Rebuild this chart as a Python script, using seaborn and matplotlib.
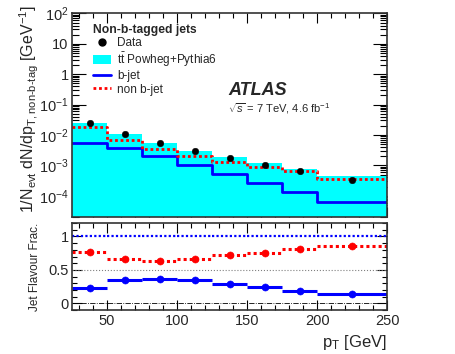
import numpy as np
import pandas as pd
import matplotlib
matplotlib.use("Agg")
import matplotlib.pyplot as plt
from matplotlib.lines import Line2D
from matplotlib.patches import Patch
from matplotlib.ticker import MultipleLocator, LogLocator, FuncFormatter, NullFormatter
import seaborn as sns

# --- dados ---
bin_edges = [25, 50, 75, 100, 125, 150, 175, 200, 250]
data_vals = [0.0247, 0.0105, 0.00547, 0.00292, 0.00172, 0.00102, 0.00066, 0.000342]
mc_total = [0.0242, 0.0108, 0.0056, 0.00305, 0.00186, 0.00118, 0.000767, 0.000463]
mc_bjet = [0.00547, 0.00366, 0.0020, 0.00104, 0.000514, 0.000267, 0.000138, 0.0000603]
mc_nonb = [0.0187, 0.00701, 0.00348, 0.0020, 0.0013, 0.000914, 0.00066, 0.000369]

frac_nonb = [0.766, 0.657, 0.640, 0.657, 0.716, 0.757, 0.816, 0.850]
frac_bjet = [0.224, 0.343, 0.368, 0.343, 0.284, 0.243, 0.183, 0.144]
frac_all = [1.0, 1.0, 1.0, 1.0, 1.0, 1.0, 1.0, 1.0]

CYAN = "#00FFFF"
BLUE = "#0000FF"
RED = "#FF0000"

sns.set_style("ticks")
plt.rcParams["font.family"] = ["Liberation Sans", "DejaVu Sans"]
plt.rcParams["mathtext.fontset"] = "custom"
plt.rcParams["mathtext.rm"] = "Liberation Sans"
plt.rcParams["mathtext.it"] = "Liberation Sans:italic"
plt.rcParams["mathtext.bf"] = "Liberation Sans:bold"

edges = np.array(bin_edges, dtype=float)
centers = 0.5 * (edges[:-1] + edges[1:])
df_mc = pd.DataFrame({"pt": centers, "total": mc_total})

fig = plt.figure(figsize=(4.56, 3.54), dpi=100)
ax = fig.add_axes([0.158, 0.387, 0.691, 0.575])
ax2 = fig.add_axes([0.158, 0.124, 0.691, 0.246])

# --- painel principal ---
sns.histplot(data=df_mc, x="pt", weights="total", bins=bin_edges, element="step", fill=True,
             color=CYAN, alpha=1, linewidth=0, ax=ax)
sns.lineplot(x=edges, y=list(mc_bjet) + [mc_bjet[-1]], drawstyle="steps-post",
             color=BLUE, lw=2, sort=False, estimator=None, ax=ax)
sns.lineplot(x=edges, y=list(mc_nonb) + [mc_nonb[-1]], drawstyle="steps-post",
             color=RED, lw=2, ls=(0, (1, 1)), sort=False, estimator=None, ax=ax)
sns.scatterplot(x=centers, y=data_vals, color="black", s=22, edgecolor="black",
                zorder=5, ax=ax)

ax.set_yscale("log")
ax.set_xlim(25, 250)
ax.set_ylim(2e-5, 100)
ax.set_xlabel("")
ax.set_ylabel("1/N$_{\\rm evt}$ dN/dp$_{\\rm T,non\u2010b\u2010tag}$ [GeV$^{-1}$]", fontsize=11.5)
ax.yaxis.set_label_coords(-0.1, 0.53)


def log_fmt(v, pos):
    if abs(v - 1) < 1e-9:
        return "1"
    if abs(v - 10) < 1e-9:
        return "10"
    return r"$10^{%d}$" % int(round(np.log10(v)))


ax.yaxis.set_major_locator(LogLocator(base=10, numticks=20))
ax.yaxis.set_minor_locator(LogLocator(base=10, subs=np.arange(2, 10), numticks=20))
ax.yaxis.set_major_formatter(FuncFormatter(log_fmt))
ax.yaxis.set_minor_formatter(NullFormatter())
ax.xaxis.set_major_locator(MultipleLocator(50))
ax.xaxis.set_minor_locator(MultipleLocator(10))
ax.tick_params(axis="x", labelbottom=False)

leg_handles = [
    Line2D([], [], marker="o", color="black", ls="none", markersize=5),
    Patch(facecolor=CYAN, edgecolor="none"),
    Line2D([], [], color=BLUE, lw=2),
    Line2D([], [], color=RED, lw=2, ls=(0, (1, 1))),
]
leg_labels = ["Data", r"t$\bar{\rm t}$ Powheg+Pythia6", "b-jet", "non b-jet"]
leg = ax.legend(leg_handles, leg_labels, loc="upper left", bbox_to_anchor=(0.045, 0.985),
                frameon=False, fontsize=8.5, title="Non-b-tagged jets",
                title_fontproperties={"weight": "bold", "size": 8.7},
                alignment="left", handlelength=1.5, handletextpad=0.5,
                labelspacing=0.12, borderaxespad=0.2)

ax.text(0.495, 0.62, "ATLAS", transform=ax.transAxes, fontsize=13,
        fontweight="bold", fontstyle="italic", va="center")
ax.text(0.495, 0.535, r"$\sqrt{s}$ = 7 TeV, 4.6 fb$^{-1}$", transform=ax.transAxes,
        fontsize=8, va="center")

# --- painel de fracoes ---
ax2.axhline(0.5, color="gray", ls=":", lw=0.8)
ax2.axhline(0.0, color="black", ls="-.", lw=0.6)
ax2.hlines(frac_all, edges[:-1], edges[1:], color=BLUE, lw=1.6, ls=(0, (1, 1)))
ax2.hlines(frac_nonb, edges[:-1], edges[1:], color=RED, lw=2.2, ls=(0, (1, 1)))
ax2.hlines(frac_bjet, edges[:-1], edges[1:], color=BLUE, lw=2.2)
sns.scatterplot(x=centers, y=frac_nonb, color=RED, s=26, edgecolor=RED, zorder=5, ax=ax2)
sns.scatterplot(x=centers, y=frac_bjet, color=BLUE, s=26, edgecolor=BLUE, zorder=5, ax=ax2)

ax2.set_xlim(25, 250)
ax2.set_ylim(-0.1, 1.2)
ax2.yaxis.set_major_locator(MultipleLocator(0.5))
ax2.yaxis.set_minor_locator(MultipleLocator(0.1))
ax2.yaxis.set_major_formatter(FuncFormatter(lambda v, p: "%g" % v))
ax2.xaxis.set_major_locator(MultipleLocator(50))
ax2.xaxis.set_minor_locator(MultipleLocator(10))
ax2.set_ylabel("Jet Flavour Frac.", fontsize=8.5)
ax2.yaxis.set_label_coords(-0.1, 0.5)
ax2.set_xlabel(r"p$_{\rm T}$ [GeV]", fontsize=12, loc="right")

for a in (ax, ax2):
    a.tick_params(which="both", direction="in", top=True, right=True, labelsize=10.5,
                  color="black", pad=2.5)
    a.tick_params(which="major", length=7, width=0.8)
    a.tick_params(which="minor", length=3.5, width=0.8)
    for sp in a.spines.values():
        sp.set_visible(True)
        sp.set_linewidth(1.2)
        sp.set_color("#333333")
ax.tick_params(axis="y", which="major", length=10)
ax.tick_params(axis="y", which="minor", length=5)

fig.savefig("out.png", dpi=100)
